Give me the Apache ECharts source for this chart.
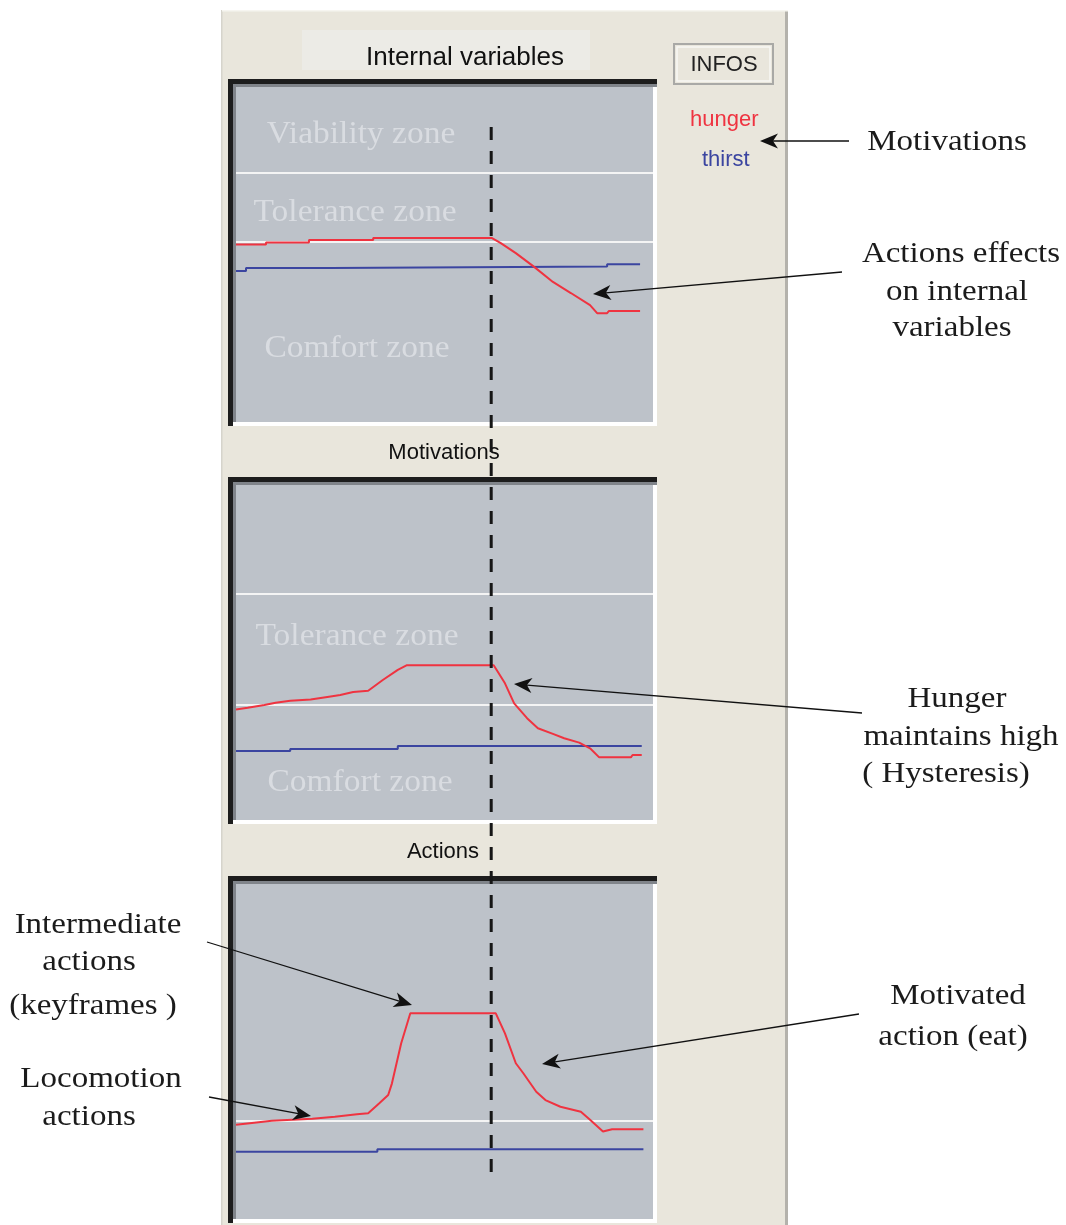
<!DOCTYPE html>
<html>
<head>
<meta charset="utf-8">
<script src="https://cdn.jsdelivr.net/npm/echarts@6/dist/echarts.min.js"></script>
<style>
html,body{margin:0;padding:0;background:#ffffff;}
#chart{width:1066px;height:1225px;}
</style>
</head>
<body>
<div id="chart"></div>
<script>
// ---------- data (time 0..100, value 0..100 in each panel) ----------
const panelTitles = ['Internal variables', 'Motivations', 'Actions'];
const seriesNames = ['hunger', 'thirst'];

// Internal variables
const ivHunger = [[0,53.0],[7.2,53.0],[7.2,53.6],[17.5,53.6],[17.5,54.3],[32.9,54.3],[32.9,54.9],[61.4,54.9],[63.5,53.4],[67.1,50.4],[71.5,46.3],[76.0,41.8],[80.3,38.5],[84.9,34.9],[86.6,32.5],[89.0,32.5],[89.4,33.1],[96.9,33.1]];
const ivThirst = [[0,45.1],[2.4,45.1],[2.4,46.0],[22.8,46.0],[22.8,46.4],[89.0,46.4],[89.0,47.1],[96.9,47.1]];
const ivZones  = [74.3, 53.7];

// Motivations
const motHunger = [[0,33.0],[2.8,33.5],[6.8,34.3],[9.5,35.0],[13.0,35.6],[17.9,36.0],[22.3,36.8],[25.0,37.3],[28.1,38.2],[31.7,38.6],[35.2,41.8],[38.8,44.8],[41.0,46.2],[61.8,46.2],[64.5,40.8],[66.7,34.8],[69.8,30.4],[72.4,27.4],[76.0,25.7],[78.7,24.4],[82.3,23.1],[84.9,21.4],[87.1,18.7],[94.7,18.7],[95.1,19.4],[97.3,19.4]];
const motThirst = [[0,20.6],[13.0,20.6],[13.0,21.2],[38.8,21.2],[38.8,22.1],[97.3,22.1]];
const motZones  = [67.5, 34.3];

// Actions
const actHunger = [[0,28.1],[3.3,28.6],[8.6,29.3],[18.3,29.9],[23.7,30.5],[29.0,31.3],[31.7,31.6],[34.3,34.5],[36.5,37.0],[37.4,40.5],[39.6,52.4],[41.8,61.4],[62.3,61.4],[64.5,55.4],[67.1,46.5],[68.9,43.5],[72.0,38.0],[74.2,35.5],[77.8,33.5],[82.7,32.0],[84.9,29.6],[88.0,26.1],[90.2,26.8],[97.7,26.8]];
const actThirst = [[0,20.1],[33.9,20.1],[33.9,20.8],[97.7,20.8]];
const actZones  = [29.3];

const eventTime = 61.2;   // the dashed vertical marker

// ---------- styling ----------
const RED = '#ef3340', BLUE = '#3b45a0';
const BEIGE = '#e9e6dc', PANEL = '#bdc2c9';
const GRID_LEFT = 236, GRID_W = 417, GRID_H = 335;
const gridTops = [87, 485, 884];

const chart = echarts.init(document.getElementById('chart'), null, {renderer: 'canvas'});

const panels = [
  {hunger: ivHunger, thirst: ivThirst, zones: ivZones},
  {hunger: motHunger, thirst: motThirst, zones: motZones},
  {hunger: actHunger, thirst: actThirst, zones: actZones}
];

const grids = [], xAxes = [], yAxes = [], series = [];
panels.forEach((p, i) => {
  grids.push({left: GRID_LEFT, top: gridTops[i], width: GRID_W, height: GRID_H,
    show: true, backgroundColor: PANEL, borderWidth: 0});
  xAxes.push({type: 'value', gridIndex: i, min: 0, max: 100, show: false});
  yAxes.push({type: 'value', gridIndex: i, min: 0, max: 100, show: false});
  series.push({
    type: 'line', name: 'zones' + i, xAxisIndex: i, yAxisIndex: i, data: [],
    silent: true, z: 1,
    markLine: {silent: true, symbol: 'none', label: {show: false}, z: 1,
      lineStyle: {color: '#f4f4f4', width: 2, type: 'solid'},
      data: p.zones.map(v => ({yAxis: v}))}
  });
  series.push({type: 'line', name: seriesNames[0], xAxisIndex: i, yAxisIndex: i, z: 4,
    data: p.hunger, showSymbol: false, color: RED, lineStyle: {color: RED, width: 2}});
  series.push({type: 'line', name: seriesNames[1], xAxisIndex: i, yAxisIndex: i, z: 3,
    data: p.thirst, showSymbol: false, color: BLUE, lineStyle: {color: BLUE, width: 2}});
});

chart.setOption({
  backgroundColor: '#ffffff',
  animation: false,
  grid: grids, xAxis: xAxes, yAxis: yAxes, series: series,
  legend: [
    {left: 680, top: 104, orient: 'vertical', icon: 'none', itemWidth: 0, itemHeight: 10,
     data: [{name: 'hunger', textStyle: {color: RED}}],
     textStyle: {fontSize: 22, fontFamily: 'Liberation Sans'}, selectedMode: false},
    {left: 692, top: 144, orient: 'vertical', icon: 'none', itemWidth: 0, itemHeight: 10,
     data: [{name: 'thirst', textStyle: {color: BLUE}}],
     textStyle: {fontSize: 22, fontFamily: 'Liberation Sans'}, selectedMode: false}
  ]
});

// ---------- decorations ----------
const g = [];
function rect(x, y, w, h, fill, z, extra) {
  g.push(Object.assign({type: 'rect', z: z === undefined ? -5 : z, silent: true,
    shape: {x, y, width: w, height: h}, style: {fill}}, extra || {}));
}
function text(t, x, y, size, family, fill, z, sx) {
  g.push({type: 'text', z: z || 50, silent: true, x, y, scaleX: sx || 1,
    style: {text: t, fontSize: size, fontFamily: family, fill, align: 'center', verticalAlign: 'middle'}});
}
function arrow(x1, y1, x2, y2) {
  const dx = x2 - x1, dy = y2 - y1, L = Math.hypot(dx, dy), ux = dx / L, uy = dy / L;
  const hl = 18, hw = 7.5;
  const bx = x2 - ux * hl, by = y2 - uy * hl;
  g.push({type: 'line', z: 60, silent: true, shape: {x1, y1, x2: x2 - ux * 10, y2: y2 - uy * 10},
    style: {stroke: '#111', lineWidth: 1.3}});
  g.push({type: 'polygon', z: 61, silent: true,
    shape: {points: [[x2, y2], [bx - uy * hw, by + ux * hw], [x2 - ux * hl * 0.72, y2 - uy * hl * 0.72], [bx + uy * hw, by - ux * hw]]},
    style: {fill: '#111'}});
}

// window background
rect(222, 10, 566, 1215, BEIGE, -20);
rect(221, 10, 1.5, 1215, '#d6d4cc', -19);
rect(785, 10, 3, 1215, '#b4b2ac', -19);
rect(222, 10, 566, 1.5, '#f6f5f0', -19);
// title box
rect(302, 30, 288, 40, '#ecebe6', -18);
// INFOS button
g.push({type: 'rect', z: -10, silent: true, shape: {x: 674, y: 44, width: 99, height: 40},
  style: {fill: BEIGE, stroke: '#a9a9a6', lineWidth: 2}});
g.push({type: 'rect', z: -9, silent: true, shape: {x: 677, y: 47, width: 93, height: 34},
  style: {fill: 'none', stroke: '#f7f7f4', lineWidth: 1.5}});
text('INFOS', 724, 65, 22, 'Liberation Sans', '#222');

// panel frames
gridTops.forEach(top => {
  const fx = GRID_LEFT - 8, fy = top - 8;
  rect(fx, fy, GRID_W + 12, 5, '#1d1d1d', -5);
  rect(fx, fy, 5, GRID_H + 12, '#1d1d1d', -5);
  rect(fx + 5, fy + 5, GRID_W + 7, 3, '#80848a', -5);
  rect(fx + 5, fy + 5, 3, GRID_H + 7, '#80848a', -5);
  rect(GRID_LEFT + GRID_W, top, 4, GRID_H + 4, '#ffffff', -5);
  rect(fx + 5, top + GRID_H, GRID_W + 7, 4, '#ffffff', -5);
});

// panel titles
text(panelTitles[0], 465, 58, 26, 'Liberation Sans', '#111');
text(panelTitles[1], 444, 453, 22, 'Liberation Sans', '#111');
text(panelTitles[2], 443, 852, 22, 'Liberation Sans', '#111');

// zone labels
const ZC = '#d9dce1', ZF = 'Liberation Serif', ZS = 31, ZX = 1.08;
text('Viability zone', 361, 135, ZS, ZF, ZC, 5, ZX);
text('Tolerance zone', 355, 213, ZS, ZF, ZC, 5, ZX);
text('Comfort zone', 357, 349, ZS, ZF, ZC, 5, ZX);
text('Tolerance zone', 357, 637, ZS, ZF, ZC, 5, ZX);
text('Comfort zone', 360, 783, ZS, ZF, ZC, 5, ZX);

// dashed event marker (x from the time scale)
const ex = chart.convertToPixel({gridIndex: 0}, [eventTime, 0])[0];
g.push({type: 'line', z: 70, silent: true, shape: {x1: ex, y1: 127, x2: ex, y2: 1180},
  style: {stroke: '#161616', lineWidth: 3, lineDash: [13, 11]}});

// annotations
const AF = 'Liberation Serif', AC = '#1b1b1b', AS = 30, AX = 1.1;
text('Motivations', 947, 142, AS, AF, AC, 50, AX);
text('Actions effects', 961, 254, AS, AF, AC, 50, AX);
text('on internal', 957, 292, AS, AF, AC, 50, AX);
text('variables', 952, 328, AS, AF, AC, 50, AX);
text('Hunger', 957, 699, AS, AF, AC, 50, AX);
text('maintains high', 961, 737, AS, AF, AC, 50, AX);
text('( Hysteresis)', 946, 774, AS, AF, AC, 50, AX);
text('Motivated', 958, 996, AS, AF, AC, 50, AX);
text('action (eat)', 953, 1037, AS, AF, AC, 50, AX);
text('Intermediate', 98, 925, AS, AF, AC, 50, AX);
text('actions', 89, 962, AS, AF, AC, 50, AX);
text('(keyframes )', 93, 1006, AS, AF, AC, 50, AX);
text('Locomotion', 101, 1079, AS, AF, AC, 50, AX);
text('actions', 89, 1117, AS, AF, AC, 50, AX);

arrow(849, 141, 760, 141);
arrow(842, 272, 593, 294);
arrow(862, 713, 514, 684);
arrow(859, 1014, 542, 1064);
arrow(207, 942, 412, 1005);
arrow(209, 1097, 311, 1116);

chart.setOption({graphic: g});
</script>
</body>
</html>
